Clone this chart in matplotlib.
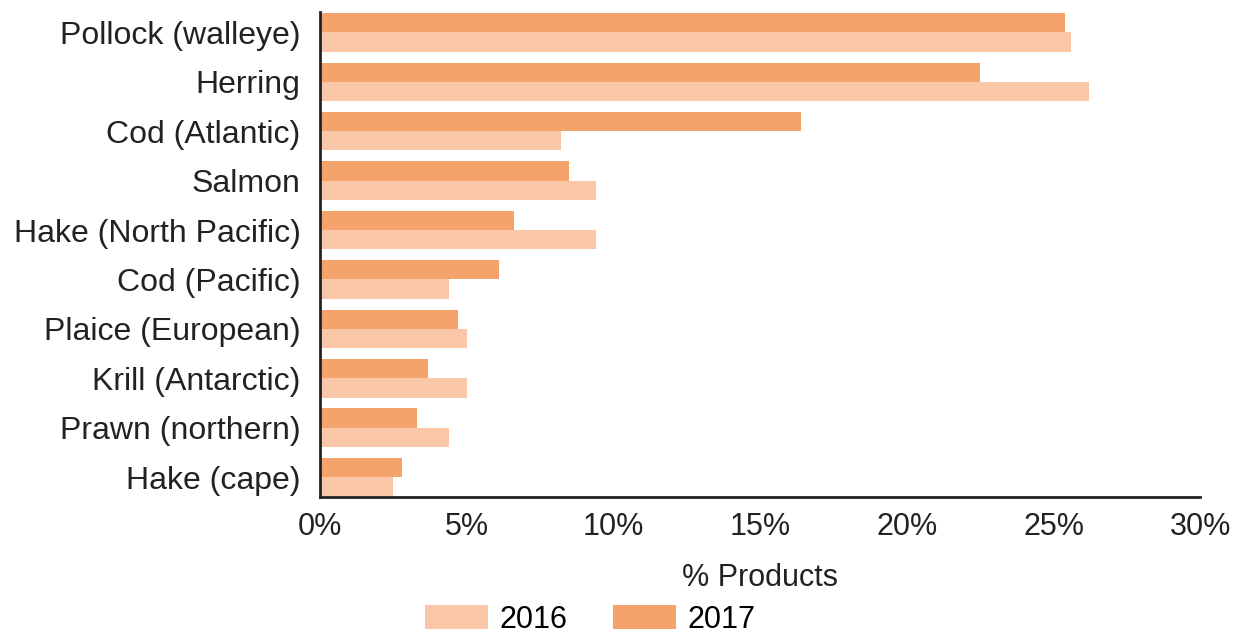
import numpy as np
import matplotlib.pyplot as plt

species = ["Pollock (walleye)", "Herring", "Cod (Atlantic)", "Salmon",
           "Hake (North Pacific)", "Cod (Pacific)", "Plaice (European)",
           "Krill (Antarctic)", "Prawn (northern)", "Hake (cape)"]
share_2016 = [25.6, 26.2, 8.2, 9.4, 9.4, 4.4, 5.0, 5.0, 4.4, 2.5]
share_2017 = [25.4, 22.5, 16.4, 8.5, 6.6, 6.1, 4.7, 3.7, 3.3, 2.8]

plt.rcParams["font.family"] = ["Liberation Sans", "DejaVu Sans"]
fs = 22
txt = "#222222"

fig = plt.figure(figsize=(12.35, 6.37), dpi=100)
ax = fig.add_axes([0.259, 0.22, 0.713, 0.761])

y = np.arange(len(species))
h = 0.39
ax.barh(y + h / 2, share_2016, height=h, color="#FAC8A8", label="2016")
ax.barh(y - h / 2, share_2017, height=h, color="#F5A36C", label="2017")

# bars sit right against the top and bottom of the plot area
ax.set_ylim(len(species) - 0.6, -0.41)
ax.set_xlim(0, 30)
ax.set_yticks(y)
ax.set_yticklabels(species, fontsize=23, color=txt)
ax.set_xticks(range(0, 31, 5))
ax.set_xticklabels([f"{v}%" for v in range(0, 31, 5)], fontsize=fs, color=txt)
ax.tick_params(axis="x", length=0, pad=11)
ax.tick_params(axis="y", length=0, pad=14)

for s in ["top", "right"]:
    ax.spines[s].set_visible(False)
for s in ["left", "bottom"]:
    ax.spines[s].set_linewidth(2)
    ax.spines[s].set_color(txt)

ax.set_xlabel("% Products", fontsize=fs, color=txt, labelpad=15)
fig.legend(loc="center", bbox_to_anchor=(0.478, 0.027), ncol=2,
           frameon=False, fontsize=fs, handlelength=2.06, handleheight=0.85,
           handletextpad=0.39, columnspacing=1.47, borderpad=0)

fig.savefig("out.png", dpi=100)
